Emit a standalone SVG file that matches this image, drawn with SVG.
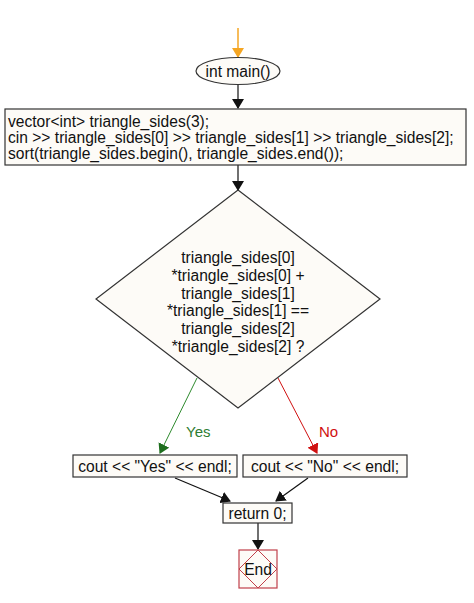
<svg xmlns="http://www.w3.org/2000/svg" width="474" height="603" viewBox="0 0 474 603">
<style>
.box{fill:#fdfbf7;stroke:#333;stroke-width:1.2}
.t{font-family:"Liberation Sans",Arial,sans-serif;font-size:15.6px;fill:#111}
.c{stroke:#111;stroke-width:1.2;fill:none}
.lbl{font-family:"Liberation Sans",Arial,sans-serif;font-size:15px}
</style>
<defs>
<marker id="ab" markerWidth="10" markerHeight="12" refX="9" refY="6" orient="auto" markerUnits="userSpaceOnUse"><path d="M0,0 L10,6 L0,12 z" fill="#111"/></marker>
<marker id="ao" markerWidth="10" markerHeight="12" refX="9" refY="6" orient="auto" markerUnits="userSpaceOnUse"><path d="M0,0 L10,6 L0,12 z" fill="#f5a623"/></marker>
<marker id="ag" markerWidth="10" markerHeight="12" refX="9" refY="6" orient="auto" markerUnits="userSpaceOnUse"><path d="M0,0 L10,6 L0,12 z" fill="#1e6e1e"/></marker>
<marker id="ar" markerWidth="10" markerHeight="12" refX="9" refY="6" orient="auto" markerUnits="userSpaceOnUse"><path d="M0,0 L10,6 L0,12 z" fill="#d01010"/></marker>
</defs>
<g id="connectors">
<line x1="238" y1="28" x2="238" y2="57" stroke="#f5a623" stroke-width="1.5" marker-end="url(#ao)"/>
<line class="c" x1="238" y1="85" x2="238" y2="108" marker-end="url(#ab)"/>
<line class="c" x1="238" y1="165" x2="238" y2="190" marker-end="url(#ab)"/>
<line x1="197" y1="378" x2="160" y2="453" stroke="#2e8b2e" stroke-width="1" marker-end="url(#ag)"/>
<line x1="278" y1="378" x2="317" y2="453" stroke="#d01010" stroke-width="1" marker-end="url(#ar)"/>
<text class="lbl" x="186" y="437" fill="#2e7d32">Yes</text>
<text class="lbl" x="319" y="437" fill="#d01010">No</text>
<line class="c" x1="175" y1="478" x2="230" y2="501" marker-end="url(#ab)"/>
<line class="c" x1="308" y1="478" x2="276" y2="501" marker-end="url(#ab)"/>
<line class="c" x1="258" y1="523" x2="258" y2="549" marker-end="url(#ab)"/>
</g>
<g id="start">
<ellipse cx="238" cy="71" rx="42" ry="13.5" class="box"/>
<text class="t" x="238" y="76.5" text-anchor="middle">int main()</text>
</g>
<g id="init">
<rect x="5" y="109" width="461" height="56" class="box"/>
<text class="t" x="8" y="127">vector&lt;int&gt; triangle_sides(3);</text>
<text class="t" x="8" y="143">cin &gt;&gt; triangle_sides[0] &gt;&gt; triangle_sides[1] &gt;&gt; triangle_sides[2];</text>
<text class="t" x="8" y="159">sort(triangle_sides.begin(), triangle_sides.end());</text>
</g>
<g id="decision">
<polygon points="238,190 380,299 238,408 96,299" class="box"/>
<g class="t" text-anchor="middle">
<text x="238" y="263">triangle_sides[0]</text>
<text x="238" y="281">*triangle_sides[0] +</text>
<text x="238" y="299">triangle_sides[1]</text>
<text x="238" y="316">*triangle_sides[1] ==</text>
<text x="238" y="334">triangle_sides[2]</text>
<text x="238" y="352">*triangle_sides[2] ?</text>
</g>
</g>
<g id="yes">
<rect x="73" y="455" width="164" height="22" class="box"/>
<text class="t" x="155" y="471.5" text-anchor="middle">cout &lt;&lt; "Yes" &lt;&lt; endl;</text>
</g>
<g id="no">
<rect x="243" y="455" width="164" height="22" class="box"/>
<text class="t" x="325" y="471.5" text-anchor="middle">cout &lt;&lt; "No" &lt;&lt; endl;</text>
</g>
<g id="ret">
<rect x="223" y="503" width="69" height="20" class="box"/>
<text class="t" x="257.5" y="518.5" text-anchor="middle">return 0;</text>
</g>
<g id="end">
<rect x="239" y="550" width="38" height="38" fill="#fdfbf7" stroke="#c0404a" stroke-width="1.2"/>
<polygon points="258,550 277,569 258,588 239,569" fill="none" stroke="#c0404a" stroke-width="1"/>
<text class="t" x="258" y="575" text-anchor="middle">End</text>
</g>
</svg>
